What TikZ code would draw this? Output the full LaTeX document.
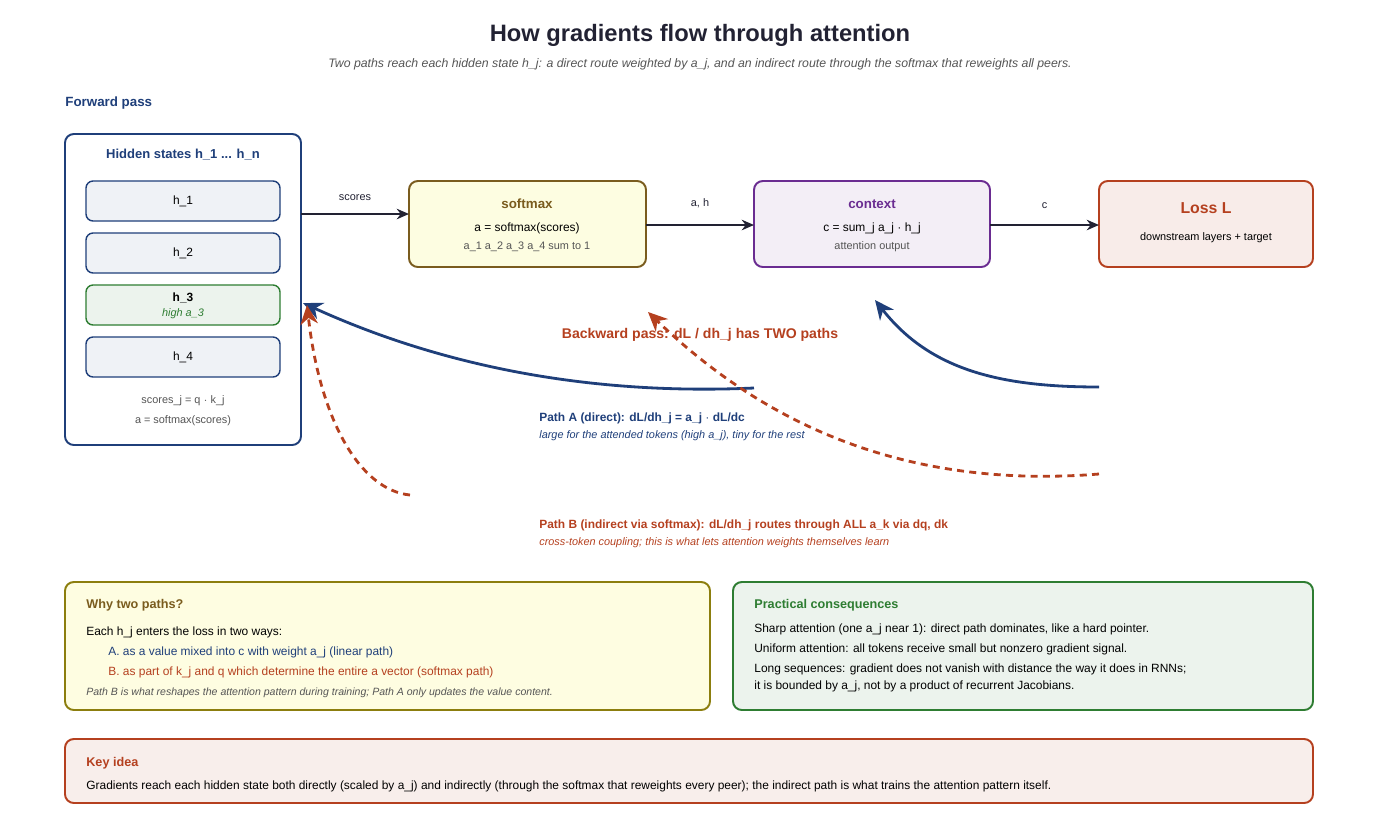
\documentclass[tikz,border=0pt]{standalone}
\usepackage{fontspec}
\setmainfont{Liberation Sans}
\usetikzlibrary{arrows.meta}
\definecolor{navy}{HTML}{1F3F7A}
\definecolor{rust}{HTML}{B5401F}
\definecolor{leaf}{HTML}{2E7D32}
\definecolor{plum}{HTML}{6A2C91}
\definecolor{ochre}{HTML}{7A5C1E}
\definecolor{ink}{HTML}{222233}
\definecolor{grey}{HTML}{555555}
\newcommand{\fs}[1]{\fontsize{#1}{#1}\selectfont}
\tikzset{
  box/.style={draw, rounded corners=5pt, line width=1.1pt},
  tok/.style={box, draw=navy, fill=navy!7, rounded corners=4pt, line width=0.8pt},
  txt/.style={inner sep=0pt, font=\fs{6.8}},
  fwd/.style={-{Stealth[length=7pt,width=6pt]}, line width=1.1pt, ink},
  bwd/.style={-{Stealth[length=11pt,width=10pt]}, line width=1.6pt, navy},
  bwdb/.style={-{Stealth[length=11pt,width=10pt]}, line width=1.6pt, rust, dash pattern=on 4pt off 3pt},
}
\begin{document}
\begin{tikzpicture}[x=0.02cm, y=-0.02cm]
\useasboundingbox (0,0) rectangle (1400,819);
% title
\node[txt, font=\fs{13.5}\bfseries, ink] (title) at (700,35) {How gradients flow through attention};
\node[txt, font=\fs{7}\itshape, grey] (sub) at (700,64) {Two paths reach each hidden state h\_j: a direct route weighted by a\_j, and an indirect route through the softmax that reweights all peers.};
\node[txt, anchor=west, font=\fs{7.6}\bfseries, navy] (fwdlbl) at (65,103) {Forward pass};
% hidden states
\draw[box, draw=navy, fill=white] (65,134) rectangle (301,445);
\coordinate (hid) at (301,214);
\node[txt, font=\fs{7.4}\bfseries, navy] (hidt) at (183,155) {Hidden states h\_1 ... h\_n};
\draw[tok] (86,181) rectangle (280,221); \node[txt] (h1) at (183,201) {h\_1};
\draw[tok] (86,233) rectangle (280,273); \node[txt] (h2) at (183,253) {h\_2};
\draw[tok, draw=leaf, fill=leaf!9] (86,285) rectangle (280,325);
\node[txt, font=\fs{6.8}\bfseries] (h3) at (183,298) {h\_3};
\node[txt, font=\fs{6.2}\itshape, leaf] (h3b) at (183,314) {high a\_3};
\draw[tok] (86,337) rectangle (280,377); \node[txt] (h4) at (183,357) {h\_4};
\node[txt, font=\fs{6.2}, grey] (sc) at (183,401) {scores\_j = q $\cdot$ k\_j};
\node[txt, font=\fs{6.2}, grey] (sm) at (183,421) {a = softmax(scores)};
% softmax
\draw[box, draw=ochre, fill=ochre!10!yellow!12] (409,181) rectangle (646,267);
\node[txt, font=\fs{7.6}\bfseries, ochre] (smt) at (527,204) {softmax};
\node[txt] (sm1) at (527,228) {a = softmax(scores)};
\node[txt, font=\fs{6.2}, grey] (sm2) at (527,247) {a\_1 a\_2 a\_3 a\_4 sum to 1};
% context
\draw[box, draw=plum, fill=plum!8] (754,181) rectangle (990,267);
\node[txt, font=\fs{7.6}\bfseries, plum] (ctt) at (872,204) {context};
\node[txt] (ct1) at (872,228) {c = sum\_j a\_j $\cdot$ h\_j};
\node[txt, font=\fs{6.2}, grey] (ct2) at (872,247) {attention output};
% loss
\draw[box, draw=rust, fill=rust!10] (1099,181) rectangle (1313,267);
\node[txt, font=\fs{9}\bfseries, rust] (lst) at (1206,208) {Loss L};
\node[txt, font=\fs{6.2}] (ls1) at (1206,238) {downstream layers + target};
% forward connectors
\coordinate (smL) at (409,214); \coordinate (smR) at (646,225);
\coordinate (ctL) at (754,225); \coordinate (ctR) at (990,225);
\coordinate (lsL) at (1099,225);
\draw[fwd] (hid) -- node[above=7pt, txt, font=\fs{6.2}] {scores} (smL);
\draw[fwd] (smR) -- node[above=9pt, txt, font=\fs{6.2}] {a, h} (ctL);
\draw[fwd] (ctR) -- node[above=9pt, txt, font=\fs{6.2}] {c} (lsL);
% backward pass
\coordinate (aS) at (754,388); \coordinate (aE) at (303,303);
\coordinate (bS) at (1099,387); \coordinate (bE) at (875,300);
\coordinate (cS) at (410,495); \coordinate (cE) at (307,305);
\coordinate (dS) at (1099,474); \coordinate (dE) at (648,312);
\node[txt, font=\fs{8}\bfseries, rust] (bwdlbl) at (700,335) {Backward pass: dL / dh\_j has TWO paths};
\draw[bwd] (aS) .. controls (600,395) and (450,370) .. (aE);
\draw[bwd] (bS) .. controls (1000,387) and (930,370) .. (bE);
\draw[bwdb] (cS) .. controls (360,490) and (320,420) .. (cE);
\draw[bwdb] (dS) .. controls (900,490) and (760,420) .. (dE);
\node[txt, anchor=west, font=\fs{6.8}\bfseries, navy] (pa) at (539,418) {Path A (direct): dL/dh\_j = a\_j $\cdot$ dL/dc};
\node[txt, anchor=west, font=\fs{6.2}\itshape, navy] (pa2) at (539,436) {large for the attended tokens (high a\_j), tiny for the rest};
\node[txt, anchor=west, font=\fs{6.8}\bfseries, rust] (pb) at (539,525) {Path B (indirect via softmax): dL/dh\_j routes through ALL a\_k via dq, dk};
\node[txt, anchor=west, font=\fs{6.2}\itshape, rust] (pb2) at (539,543) {cross-token coupling; this is what lets attention weights themselves learn};
% why two paths
\draw[box, draw=ochre!60!yellow!80!black, fill=ochre!8!yellow!12] (65,582) rectangle (710,710);
\node[txt, anchor=west, font=\fs{7.2}\bfseries, ochre] (wt) at (86,605) {Why two paths?};
\node[txt, anchor=west] (w1) at (86,632) {Each h\_j enters the loss in two ways:};
\node[txt, anchor=west, navy] (w2) at (108,652) {A. as a value mixed into c with weight a\_j (linear path)};
\node[txt, anchor=west, rust] (w3) at (108,672) {B. as part of k\_j and q which determine the entire a vector (softmax path)};
\node[txt, anchor=west, font=\fs{6}\itshape, grey] (w4) at (86,693) {Path B is what reshapes the attention pattern during training; Path A only updates the value content.};
% practical
\draw[box, draw=leaf, fill=leaf!9] (733,582) rectangle (1313,710);
\node[txt, anchor=west, font=\fs{7.2}\bfseries, leaf] (pt) at (754,605) {Practical consequences};
\node[txt, anchor=west] (p1) at (754,629) {Sharp attention (one a\_j near 1): direct path dominates, like a hard pointer.};
\node[txt, anchor=west] (p2) at (754,649) {Uniform attention: all tokens receive small but nonzero gradient signal.};
\node[txt, anchor=west] (p3) at (754,669) {Long sequences: gradient does not vanish with distance the way it does in RNNs;};
\node[txt, anchor=west] (p4) at (754,686) {it is bounded by a\_j, not by a product of recurrent Jacobians.};
% key idea
\draw[box, draw=rust, fill=rust!9] (65,739) rectangle (1313,803);
\node[txt, anchor=west, font=\fs{7.2}\bfseries, rust] (kt) at (86,763) {Key idea};
\node[txt, anchor=west] (k1) at (86,786) {Gradients reach each hidden state both directly (scaled by a\_j) and indirectly (through the softmax that reweights every peer); the indirect path is what trains the attention pattern itself.};
\end{tikzpicture}
\end{document}
